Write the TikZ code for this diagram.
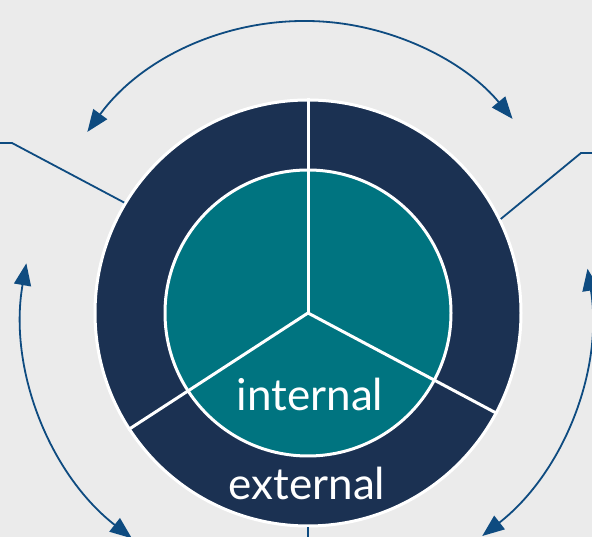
\documentclass[tikz,border=0pt]{standalone}
\usepackage{fontspec}
\setmainfont{Lato}
\usetikzlibrary{arrows.meta}
\definecolor{bgc}{HTML}{EBEBEB}
\definecolor{navy}{HTML}{1B3152}
\definecolor{tealc}{HTML}{007480}
\definecolor{arrc}{HTML}{0E4B80}
\begin{document}
\begin{tikzpicture}[x=1pt,y=1pt,
  ring/.style={circle, draw=white, line width=3pt, inner sep=0pt},
  divider/.style={white, line width=3pt},
  link/.style={arrc, line width=1.8pt},
  cyc/.style={arrc, line width=1.8pt, {Triangle[length=22pt,width=17pt]}-{Triangle[length=22pt,width=17pt]}},
  lbl/.style={text=white, font=\fontsize{44}{50}\selectfont, anchor=base, inner sep=0pt}]
\fill[bgc] (0,0) rectangle (592,537);
\useasboundingbox (0,0) rectangle (592,537);
\coordinate (c) at (308,224);
\coordinate (topc) at (305,247);
\node[ring, fill=navy, minimum size=426pt] (outer) at (c) {};
\node[ring, fill=tealc, minimum size=286pt] (inner) at (c) {};
\draw[divider] (c) -- (outer.90);
\draw[divider] (c) -- (outer.213);
\draw[divider] (c) -- (outer.332);
% connectors
\coordinate (ulknee) at (12,394);
\coordinate (ulend) at (0,394);
\coordinate (urknee) at (581,384);
\coordinate (urend) at (592,384);
\coordinate (bend) at (308,0);
\draw[link] (outer.149) -- (ulknee) -- (ulend);
\draw[link] (outer.26) -- (urknee) -- (urend);
\draw[link] (outer.270) -- (bend);
% cycle arrows
\coordinate (ta) at ([shift={(144:269)}]topc);
\coordinate (la) at ([shift={(170:286)}]c);
\coordinate (ra) at ([shift={(9:283)}]c);
\draw[cyc] (ta) arc[start angle=144, end angle=39.5, radius=269];
\draw[cyc] (la) arc[start angle=170, end angle=232, radius=286];
\draw[cyc] (ra) arc[start angle=9, end angle=-52, radius=283];
% labels
\node[lbl] (int) at (310,126) {internal};
\node[lbl] (ext) at (307,37) {external};
\end{tikzpicture}
\end{document}
